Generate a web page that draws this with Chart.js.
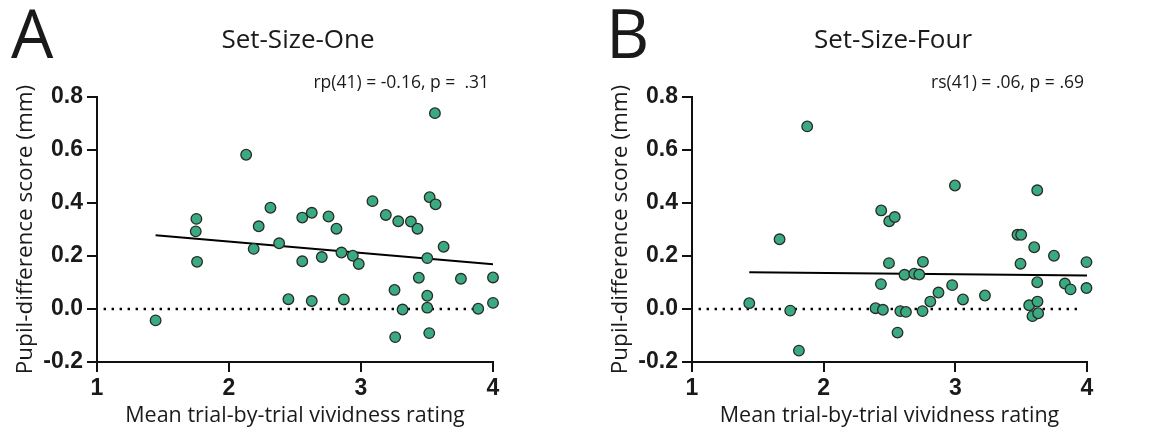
<!DOCTYPE html>
<html>
<head>
<meta charset="utf-8">
<title>Pupil-difference score vs vividness rating</title>
<script src="https://cdn.jsdelivr.net/npm/chart.js@4.4.1/dist/chart.umd.min.js"></script>
<style>
  html, body { margin: 0; padding: 0; background: #fff; }
  #wrap { position: relative; width: 1166px; height: 434px; overflow: hidden; }
  canvas { position: absolute; top: 0; }
  #cA { left: 0; }
  #cB { left: 595px; }
</style>
</head>
<body>
<div id="wrap">
  <canvas id="cA" width="583" height="434"></canvas>
  <canvas id="cB" width="571" height="434"></canvas>
</div>
<script>
// Panel A: Set-Size-One — mean vividness rating (x) and pupil-difference score in mm (y)
const oneX = [1.444, 1.753, 1.748, 1.758, 2.130, 2.187, 2.225, 2.314, 2.380, 2.450,
              2.555, 2.555, 2.627, 2.627, 2.703, 2.754, 2.814, 2.852, 2.870, 2.938,
              2.983, 3.087, 3.188, 3.254, 3.259, 3.282, 3.315, 3.378, 3.428, 3.438,
              3.502, 3.502, 3.502, 3.517, 3.520, 3.560, 3.565, 3.626, 3.757, 3.888,
              4.000, 4.000];
const oneY = [-0.043, 0.340, 0.293, 0.178, 0.582, 0.227, 0.312, 0.382, 0.248, 0.037,
              0.345, 0.180, 0.363, 0.030, 0.196, 0.349, 0.303, 0.213, 0.036, 0.201,
              0.170, 0.407, 0.355, 0.072, -0.106, 0.331, -0.002, 0.330, 0.303, 0.118,
              0.192, 0.050, 0.005, -0.091, 0.422, 0.739, 0.395, 0.235, 0.114, 0.001,
              0.119, 0.023];
const oneFitX = [1.444, 4.0];
const oneFitY = [0.278, 0.169];

// Panel B: Set-Size-Four
const fourX = [1.435, 1.665, 1.746, 1.812, 1.875, 2.394, 2.435, 2.437, 2.450, 2.496,
               2.498, 2.540, 2.561, 2.582, 2.614, 2.625, 2.688, 2.726, 2.751, 2.754,
               2.810, 2.872, 2.976, 2.997, 3.058, 3.225, 3.472, 3.500, 3.495, 3.561,
               3.586, 3.599, 3.622, 3.622, 3.624, 3.629, 3.749, 3.832, 3.875, 3.996,
               3.996];
const fourY = [0.022, 0.263, -0.006, -0.157, 0.689, 0.003, 0.094, 0.372, -0.003, 0.173,
               0.331, 0.347, -0.089, -0.008, 0.129, -0.011, 0.133, 0.130, -0.008, 0.178,
               0.028, 0.062, 0.090, 0.466, 0.036, 0.051, 0.280, 0.280, 0.171, 0.014,
               -0.027, 0.233, 0.448, 0.101, 0.028, -0.016, 0.201, 0.096, 0.074, 0.177,
               0.079];
const fourFitX = [1.435, 4.0];
const fourFitY = [0.139, 0.126];

// Shared axes and reference line at zero
const xTicks = [1, 2, 3, 4];
const yTicks = [-0.2, 0.0, 0.2, 0.4, 0.6, 0.8];
const zeroX = [1.05, 3.96];
const zeroY = [0, 0];

const xTitle = 'Mean trial-by-trial vividness rating';
const yTitle = 'Pupil-difference score (mm)';

const TEXT_FONT = '"Open Sans", "DejaVu Sans", sans-serif';
const TICK_FONT = '"Liberation Sans", Arial, sans-serif';
const INK = '#1a1a1a';

const pairs = (xs, ys) => xs.map((x, i) => ({ x: x, y: ys[i] }));

// Panel letter, heading and statistic, drawn above the plot area
const panelText = {
  id: 'panelText',
  afterDraw(chart, args, opts) {
    const ctx = chart.ctx;
    ctx.save();
    ctx.fillStyle = INK;
    ctx.textBaseline = 'alphabetic';
    ctx.textAlign = 'left';
    ctx.font = '400 67px ' + TEXT_FONT;
    ctx.fillText(opts.letter, 11, 58);
    ctx.textAlign = 'center';
    ctx.font = '400 26px ' + TEXT_FONT;
    ctx.fillText(opts.title, 298, 48);
    ctx.textAlign = 'right';
    ctx.font = '400 17.5px ' + TEXT_FONT;
    ctx.fillText(opts.stat, 489, 88);
    ctx.restore();
  }
};

function makePanel(canvasId, letter, title, stat, xs, ys, fx, fy, padRight) {
  return new Chart(document.getElementById(canvasId), {
    type: 'scatter',
    data: {
      datasets: [
        {
          data: pairs(xs, ys),
          backgroundColor: 'rgb(58,170,128)',
          borderColor: '#2a2a2a',
          borderWidth: 1.3,
          pointRadius: 5.3,
          pointHoverRadius: 5.3,
          clip: false,
          order: 0
        },
        {
          type: 'line',
          data: pairs(fx, fy),
          borderColor: '#000',
          borderWidth: 2,
          pointRadius: 0,
          fill: false,
          order: 1
        },
        {
          type: 'line',
          data: pairs(zeroX, zeroY),
          borderColor: '#000',
          borderWidth: 2.4,
          borderDash: [2.4, 5.6],
          borderCapStyle: 'butt',
          pointRadius: 0,
          fill: false,
          order: 2
        }
      ]
    },
    options: {
      responsive: false,
      devicePixelRatio: 1,
      animation: false,
      layout: { padding: { top: 97, right: padRight, left: 0, bottom: 0 } },
      plugins: {
        legend: { display: false },
        tooltip: { enabled: false },
        panelText: { letter: letter, title: title, stat: stat }
      },
      scales: {
        x: {
          type: 'linear',
          min: xTicks[0],
          max: xTicks[xTicks.length - 1],
          afterBuildTicks: (s) => { s.ticks = xTicks.map(v => ({ value: v })); },
          afterFit: (s) => { s.height = 72; },
          ticks: {
            color: INK,
            padding: 3,
            font: { family: TICK_FONT, size: 23, weight: 'bold' },
            callback: (v) => String(v)
          },
          grid: {
            drawOnChartArea: false,
            drawTicks: true,
            tickLength: 10,
            color: '#111',
            lineWidth: 2
          },
          border: { display: true, color: '#111', width: 2 },
          title: {
            display: true,
            text: xTitle,
            color: INK,
            font: { family: TEXT_FONT, size: 21.5 },
            padding: { top: 0, bottom: 5 }
          }
        },
        y: {
          type: 'linear',
          min: yTicks[0],
          max: yTicks[yTicks.length - 1],
          afterBuildTicks: (s) => { s.ticks = yTicks.map(v => ({ value: v })); },
          afterFit: (s) => { s.width = 97; },
          ticks: {
            color: INK,
            padding: 4,
            font: { family: TICK_FONT, size: 23, weight: 'bold' },
            callback: (v) => Number(v).toFixed(1)
          },
          grid: {
            drawOnChartArea: false,
            drawTicks: true,
            tickLength: 10,
            color: '#111',
            lineWidth: 2
          },
          border: { display: true, color: '#111', width: 2 },
          title: {
            display: true,
            text: yTitle,
            color: INK,
            font: { family: TEXT_FONT, size: 22.5 },
            padding: { top: 12, bottom: 0 }
          }
        }
      }
    },
    plugins: [panelText]
  });
}

makePanel('cA', 'A', 'Set-Size-One', 'rp(41) = -0.16, p =  .31',
          oneX, oneY, oneFitX, oneFitY, 90);
makePanel('cB', 'B', 'Set-Size-Four', 'rs(41) = .06, p = .69',
          fourX, fourY, fourFitX, fourFitY, 79);
</script>
</body>
</html>
